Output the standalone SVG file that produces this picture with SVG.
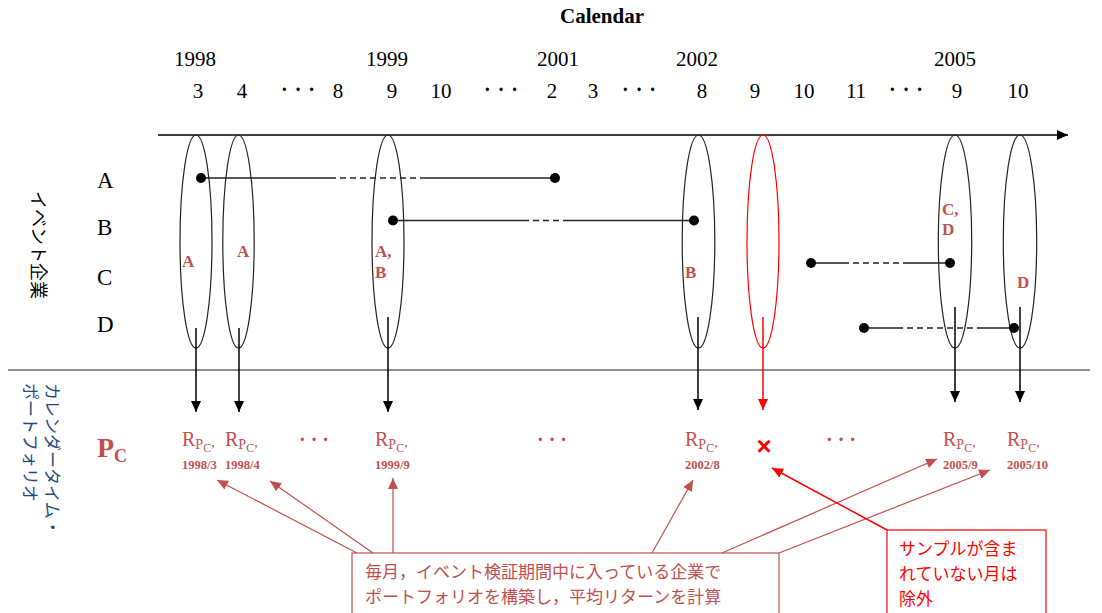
<svg xmlns="http://www.w3.org/2000/svg" width="1102" height="613" viewBox="0 0 1102 613">
<defs>
<style>
.t{font-family:"Liberation Serif","Times New Roman",serif;fill:#000}
.ax{font-size:21px}
.row{font-size:23px}
.ell{fill:none;stroke:#222;stroke-width:1.2}
.ellr{fill:none;stroke:#ff0000;stroke-width:1.2}
.lab{font-family:"Liberation Serif","Times New Roman",serif;font-weight:bold;font-size:17px;fill:#c0504d}
.ln{stroke:#222;stroke-width:1.5;fill:none}
.dash{stroke:#222;stroke-width:1.5;stroke-dasharray:6 4;fill:none}
.dot{fill:#000}
.jp{font-family:"Noto Sans CJK JP",sans-serif}
.dots{font-family:"Liberation Serif",serif;font-weight:bold;font-size:20px;letter-spacing:7px}
.rp{font-family:"Liberation Serif","Times New Roman",serif;fill:#c0504d}
.dt{font-family:"Liberation Serif","Times New Roman",serif;font-weight:bold;font-size:12.5px;fill:#c0504d}
.ak{stroke:#000;stroke-width:1.5;fill:none;marker-end:url(#mk)}
.ar{stroke:#ff0000;stroke-width:1.5;fill:none;marker-end:url(#mr)}
.ab{stroke:#c0504d;stroke-width:1.2;fill:none;marker-end:url(#mb)}
</style>
<marker id="mk" markerUnits="userSpaceOnUse" markerWidth="12" markerHeight="12" refX="11" refY="5" orient="auto"><path d="M0,0 L11,5 L0,10 z" fill="#000"/></marker>
<marker id="mr" markerUnits="userSpaceOnUse" markerWidth="12" markerHeight="12" refX="11" refY="5" orient="auto"><path d="M0,0 L11,5 L0,10 z" fill="#ff0000"/></marker>
<marker id="mb" markerUnits="userSpaceOnUse" markerWidth="12" markerHeight="12" refX="11" refY="5" orient="auto"><path d="M0,0 L11,5 L0,10 z" fill="#c0504d"/></marker>
</defs>
<rect width="1102" height="613" fill="#fff"/>

<g id="header">
<text class="t" x="602" y="23" text-anchor="middle" font-size="21" font-weight="bold">Calendar</text>
<g class="t ax" text-anchor="middle">
<text x="195" y="66">1998</text>
<text x="387" y="66">1999</text>
<text x="558" y="66">2001</text>
<text x="697" y="66">2002</text>
<text x="955" y="66">2005</text>
<text x="198" y="98">3</text>
<text x="242" y="98">4</text>
<text x="338" y="98">8</text>
<text x="392" y="98">9</text>
<text x="441" y="98">10</text>
<text x="552" y="98">2</text>
<text x="593" y="98">3</text>
<text x="702" y="98">8</text>
<text x="755" y="98">9</text>
<text x="804" y="98">10</text>
<text x="856" y="98">11</text>
<text x="957" y="98">9</text>
<text x="1018" y="98">10</text>
</g>
<g class="t dots">
<text x="281" y="96">···</text>
<text x="484" y="96">···</text>
<text x="622" y="96">···</text>
<text x="889" y="96">···</text>
</g>
</g>

<g id="axis">
<line x1="158" y1="135" x2="1068" y2="135" class="ak"/>
<line x1="8" y1="370" x2="1090" y2="370" stroke="#222" stroke-width="1.2"/>
</g>

<g id="side-labels">
<text class="jp" font-size="18" fill="#000" text-anchor="middle" dominant-baseline="central" transform="translate(40,245) rotate(90)">イベント企業</text>
<text class="jp" font-size="17" fill="#1f497d" dominant-baseline="central" transform="translate(53,383) rotate(90)">カレンダータイム・</text>
<text class="jp" font-size="17" fill="#1f497d" dominant-baseline="central" transform="translate(31,383) rotate(90)">ポートフォリオ</text>
<text class="t row" x="97" y="188">A</text>
<text class="t row" x="97" y="235">B</text>
<text class="t row" x="97" y="285">C</text>
<text class="t row" x="97" y="332">D</text>
<text class="rp" x="97" y="457" font-size="28" font-weight="bold">P<tspan font-size="18" dy="5">C</tspan></text>
</g>

<g id="ellipses">
<g id="m1998-3"><ellipse class="ell" cx="196" cy="241.5" rx="16" ry="106.5"/><text class="lab" x="182" y="267">A</text></g>
<g id="m1998-4"><ellipse class="ell" cx="238.5" cy="241.5" rx="15.7" ry="106.5"/><text class="lab" x="237" y="257">A</text></g>
<g id="m1999-9"><ellipse class="ell" cx="388" cy="241.5" rx="16" ry="106.5"/><text class="lab" x="375" y="257">A,</text><text class="lab" x="375" y="278">B</text></g>
<g id="m2002-8"><ellipse class="ell" cx="698.5" cy="241.5" rx="16.3" ry="106.5"/><text class="lab" x="685" y="278">B</text></g>
<g id="m2002-9"><ellipse class="ellr" cx="763" cy="241.5" rx="16" ry="106.5"/></g>
<g id="m2005-9"><ellipse class="ell" cx="955" cy="241.5" rx="16.7" ry="106.5"/><text class="lab" x="942" y="215">C,</text><text class="lab" x="942" y="235">D</text></g>
<g id="m2005-10"><ellipse class="ell" cx="1020" cy="241.5" rx="16.7" ry="106.5"/><text class="lab" x="1017" y="288">D</text></g>
</g>

<g id="event-lines">
<path class="ln" d="M201,178 H330 M423,178 H555"/>
<path class="dash" d="M330,178 H423"/>
<circle class="dot" cx="201" cy="178" r="5"/><circle class="dot" cx="555" cy="178" r="5"/>
<path class="ln" d="M393,220.5 H523 M565,220.5 H694"/>
<path class="dash" d="M523,220.5 H565"/>
<circle class="dot" cx="393" cy="220.5" r="5"/><circle class="dot" cx="694" cy="220.5" r="5"/>
<path class="ln" d="M811,263 H843 M905,263 H950"/>
<path class="dash" d="M843,263 H905"/>
<circle class="dot" cx="811" cy="263" r="5"/><circle class="dot" cx="950" cy="263" r="5"/>
<path class="ln" d="M864,328 H897 M983,328 H1014"/>
<path class="dash" d="M897,328 H983"/>
<circle class="dot" cx="864" cy="328" r="5"/><circle class="dot" cx="1014" cy="328" r="5"/>
</g>

<g id="connectors">
<line class="ak" x1="196" y1="328" x2="196" y2="412"/>
<line class="ak" x1="239" y1="328" x2="239" y2="412"/>
<line class="ak" x1="388" y1="317" x2="388" y2="412"/>
<line class="ak" x1="698" y1="317" x2="698" y2="410"/>
<line class="ar" x1="763" y1="317" x2="763" y2="410"/>
<line class="ak" x1="955" y1="307" x2="955" y2="402"/>
<line class="ak" x1="1020" y1="307" x2="1020" y2="402"/>
<line class="ab" x1="357" y1="553" x2="217" y2="480"/>
<line class="ab" x1="373" y1="553" x2="270" y2="481"/>
<line class="ab" x1="393" y1="553" x2="393" y2="478"/>
<line class="ab" x1="652" y1="553" x2="693" y2="480"/>
<line class="ab" x1="722" y1="553" x2="937" y2="459"/>
<line class="ab" x1="779" y1="553" x2="990" y2="470"/>
<line class="ar" stroke-width="1.2" x1="887" y1="530" x2="772" y2="468"/>
</g>

<g id="returns">
<g id="r1998-3"><text class="rp" x="182" y="446"><tspan font-size="20">R</tspan><tspan font-size="14" dy="3">P</tspan><tspan font-size="12" dy="3">C</tspan><tspan font-size="14" dy="-5">,</tspan></text><text class="dt" x="182" y="469">1998/3</text></g>
<g id="r1998-4"><text class="rp" x="225" y="446"><tspan font-size="20">R</tspan><tspan font-size="14" dy="3">P</tspan><tspan font-size="12" dy="3">C</tspan><tspan font-size="14" dy="-5">,</tspan></text><text class="dt" x="225" y="469">1998/4</text></g>
<g id="r1999-9"><text class="rp" x="375" y="446"><tspan font-size="20">R</tspan><tspan font-size="14" dy="3">P</tspan><tspan font-size="12" dy="3">C</tspan><tspan font-size="14" dy="-5">,</tspan></text><text class="dt" x="375" y="469">1999/9</text></g>
<g id="r2002-8"><text class="rp" x="685" y="446"><tspan font-size="20">R</tspan><tspan font-size="14" dy="3">P</tspan><tspan font-size="12" dy="3">C</tspan><tspan font-size="14" dy="-5">,</tspan></text><text class="dt" x="685" y="469">2002/8</text></g>
<g id="r2005-9"><text class="rp" x="943" y="446"><tspan font-size="20">R</tspan><tspan font-size="14" dy="3">P</tspan><tspan font-size="12" dy="3">C</tspan><tspan font-size="14" dy="-5">,</tspan></text><text class="dt" x="943" y="469">2005/9</text></g>
<g id="r2005-10"><text class="rp" x="1007" y="446"><tspan font-size="20">R</tspan><tspan font-size="14" dy="3">P</tspan><tspan font-size="12" dy="3">C</tspan><tspan font-size="14" dy="-5">,</tspan></text><text class="dt" x="1007" y="469">2005/10</text></g>
<text x="764" y="455" text-anchor="middle" font-family="Liberation Sans,sans-serif" font-weight="bold" font-size="26" fill="#ff0000">×</text>
<g class="dots" fill="#c0504d" font-size="17" style="letter-spacing:5px">
<text x="299" y="446">···</text>
<text x="537" y="446">···</text>
<text x="826" y="446">···</text>
</g>
</g>

<g id="note-portfolio">
<rect x="352" y="553" width="427" height="75" fill="#fff" stroke="#c0504d" stroke-width="1.2"/>
<text class="jp" font-size="17" fill="#c0504d" x="365" y="578">毎月，イベント検証期間中に入っている企業で</text>
<text class="jp" font-size="17" fill="#c0504d" x="365" y="603">ポートフォリオを構築し，平均リターンを計算</text>
</g>

<g id="note-excluded">
<rect x="887" y="530" width="159" height="95" fill="#fff" stroke="#ff0000" stroke-width="1.2"/>
<text class="jp" font-size="17" fill="#ff0000" x="899" y="555">サンプルが含ま</text>
<text class="jp" font-size="17" fill="#ff0000" x="899" y="580">れていない月は</text>
<text class="jp" font-size="17" fill="#ff0000" x="899" y="605">除外</text>
</g>
</svg>
